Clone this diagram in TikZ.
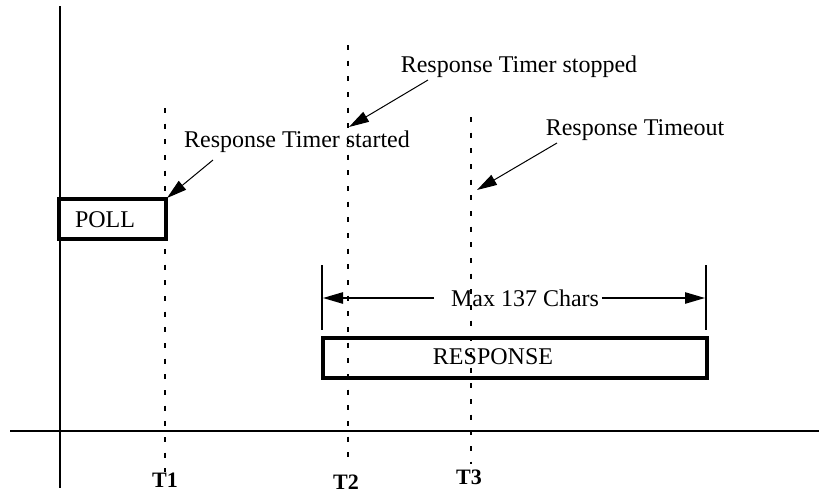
\documentclass[tikz,border=0pt]{standalone}
\usepackage{fontspec}
\setmainfont{Liberation Serif}
\usetikzlibrary{arrows.meta}
\begin{document}
\begin{tikzpicture}[x=0.75pt,y=-0.75pt,
  axis/.style={line width=1.5pt},
  tline/.style={line width=1.5pt, dash pattern=on 3.75pt off 8pt},
  thickbox/.style={draw, line width=3pt, inner sep=0pt},
  lbl/.style={inner sep=0pt, font=\fontsize{18}{20}\selectfont},
  tlbl/.style={inner sep=0pt, font=\fontsize{16.5}{18}\selectfont\bfseries},
  ptr/.style={line width=0.75pt, -{Triangle[length=15pt,width=8.5pt]}},
  dim/.style={line width=1.1pt, -{Triangle[length=15pt,width=8.5pt]}},
  bar/.style={line width=1.5pt}]
\useasboundingbox (0,0) rectangle (819,494);
% axes
\coordinate (ytop) at (60,6);
\coordinate (ybot) at (60,488);
\coordinate (xl) at (10,431);
\coordinate (xr) at (819,431);
\draw[axis] (ytop) -- (ybot);
\draw[axis] (xl) -- (xr);
% time lines
\coordinate (t1top) at (165,108);
\coordinate (t1bot) at (165,472);
\coordinate (t2top) at (348,45);
\coordinate (t2bot) at (348,462);
\coordinate (t3top) at (471,117);
\coordinate (t3bot) at (471,464);
\draw[tline] (t1top) -- (t1bot);
\draw[tline] (t2top) -- (t2bot);
\draw[tline] (t3top) -- (t3bot);
% boxes
\node[thickbox, minimum width=80.25pt, minimum height=30pt] (poll) at (112.5,219) {};
\node[lbl] (pollt) at (105,220) {POLL};
\node[thickbox, minimum width=288pt, minimum height=30pt] (resp) at (515,358) {};
\node[lbl] (respt) at (493,357) {RESPONSE};
% labels
\node[lbl] (started) at (297,142) {Response Timer started};
\node[lbl] (stopped) at (519,67) {Response Timer stopped};
\node[lbl] (timeout) at (635,130) {Response Timeout};
\coordinate (sa) at (213,160);
\coordinate (sb) at (167,198);
\coordinate (pa) at (428,80);
\coordinate (pb) at (349,127);
\coordinate (oa) at (557,143);
\coordinate (ob) at (477,190);
\draw[ptr] (sa) -- (sb);
\draw[ptr] (pa) -- (pb);
\draw[ptr] (oa) -- (ob);
% dimension
\coordinate (bl1) at (322,265);
\coordinate (bl2) at (322,330);
\coordinate (br1) at (706,265);
\coordinate (br2) at (706,330);
\draw[bar] (bl1) -- (bl2);
\draw[bar] (br1) -- (br2);
\node[lbl, inner xsep=2pt] (maxc) at (525,298) {Max 137 Chars};
\coordinate (al) at (323,298);
\coordinate (ar) at (705,298);
\draw[dim] (maxc.west) ++(-14,0) -- (al);
\draw[dim] (maxc.east) -- (ar);
% T labels
\node[tlbl] (T1) at (165,480) {T1};
\node[tlbl] (T2) at (346,482) {T2};
\node[tlbl] (T3) at (469,477) {T3};
\end{tikzpicture}
\end{document}
